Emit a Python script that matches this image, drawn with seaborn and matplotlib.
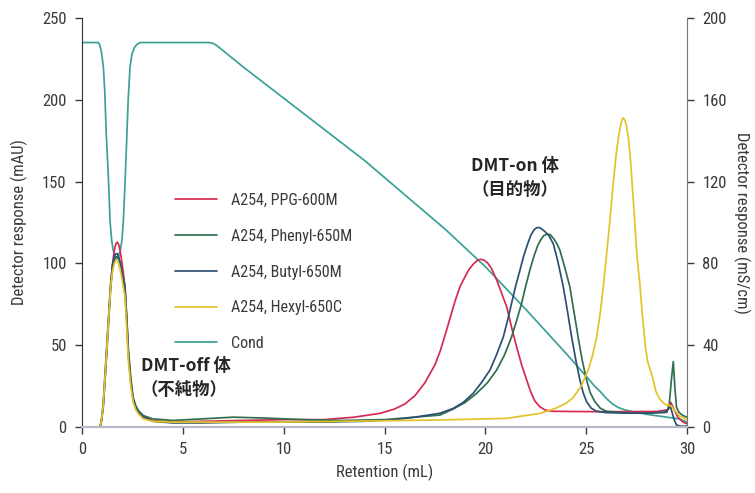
import pandas as pd
import matplotlib
matplotlib.use('Agg')
import matplotlib.pyplot as plt
import seaborn as sns

# retention (mL) and detector response (mAU)
early_x = [0, 0.9, 0.97, 1.05, 1.13, 1.22, 1.32, 1.42, 1.51, 1.6, 1.68, 1.75, 1.82, 1.9, 2.0,
           2.13, 2.22, 2.3, 2.42, 2.54, 2.67, 2.8, 3.04, 3.5]

ppg_x = early_x + [4.5, 6, 8, 10, 12, 13.5, 14.8, 15.5, 16, 16.5, 17, 17.5, 17.75, 18, 18.25,
                   18.5, 18.75, 19, 19.2, 19.4, 19.6, 19.75, 19.9, 20.1, 20.3, 20.56, 20.8, 21.06,
                   21.3, 21.55, 21.8, 22.05, 22.25, 22.45, 22.7, 22.95, 23.3, 25, 27, 28.5,
                   29.05, 29.2, 29.35, 29.55, 29.8, 30]
ppg_y = [0, 0, 4, 12, 26, 45, 66, 86, 99, 108, 112, 113, 111.5, 107, 99,
         86, 66, 45, 28, 16.5, 11.5, 9, 6.3, 4] + \
        [3, 3.5, 4, 4.5, 4.5, 6, 8.4, 11, 14, 19, 27, 38, 46, 56, 66.5,
         77, 86, 92, 96.5, 99.5, 101.8, 102.5, 102.2, 100.5, 97, 90, 82, 73.5,
         61, 49, 38, 28.7, 21.5, 16, 12.4, 10.5, 9.6, 9.4, 9.4, 9.5,
         10.5, 15, 11, 6, 3, 2]

phenyl_x = early_x + [4.5, 6, 7.5, 9, 11, 13, 15, 16.5, 17.75, 18.41, 19.0, 19.57, 20.1, 20.56,
                      20.95, 21.3, 21.55, 21.8, 22.0, 22.21, 22.4, 22.6, 22.75, 22.9, 23.07, 23.22,
                      23.4, 23.55, 23.7, 23.95, 24.19, 24.4, 24.6, 24.8, 25.02, 25.2, 25.43, 25.7,
                      26, 27, 28, 29.0, 29.12, 29.22, 29.32, 29.4, 29.48, 29.6, 29.8, 30]
phenyl_y = [0, 0, 4, 12, 27, 44, 64, 85, 96, 102, 103.8, 104, 103, 100, 94,
            86, 67, 47, 30, 18, 13, 10, 7, 5] + \
           [4, 5, 6, 5.5, 4.5, 4, 4.5, 6, 7.3, 11, 15, 20.6, 27, 34.8,
            44, 55, 65, 75.6, 86, 96, 104, 111, 114.5, 117, 118, 117.5,
            115, 112, 108, 97, 85.8, 70, 55, 41, 28.7, 21, 15.5, 11.5,
            9.6, 8.5, 8.5, 9, 14, 28, 40, 24, 12, 9, 7, 6]

butyl_x = early_x + [4.5, 6, 8, 10, 12, 14, 15.5, 16.5, 17.75, 18.41, 18.9, 19.4, 19.8, 20.23,
                     20.55, 20.89, 21.1, 21.3, 21.5, 21.72, 21.9, 22.1, 22.25, 22.4, 22.52, 22.62,
                     22.75, 22.95, 23.15, 23.37, 23.6, 23.86, 24.07, 24.28, 24.5, 24.69, 24.85,
                     25.02, 25.25, 25.52, 26, 27, 28, 28.9, 29.18, 29.35, 29.48, 29.7, 30]
butyl_y = [0, 0, 5, 14, 30, 48, 68, 88, 99, 104, 105.8, 106, 104, 100, 93,
           84, 64, 44, 27, 16, 11, 9, 6, 3.5] + \
          [2.5, 2.5, 3, 3, 3, 3.5, 4.5, 6, 8.4, 11.4, 15, 20.6, 27, 34.8,
           44, 55, 65, 75.6, 86, 96, 104.5, 112, 117, 120.3, 121.6, 122,
           121.5, 119.5, 117, 112, 101, 86, 71, 55, 40, 28.7, 21,
           15.5, 11.5, 9.6, 8.8, 8.5, 8.5, 9, 12.4, 5, 1.2, 0.5, 0.5]

hexyl_x = early_x + [4.5, 7, 10, 13, 16, 17.75, 19.5, 21.06, 22.7, 23.5, 24.0, 24.36, 24.75, 25.1,
                     25.3, 25.52, 25.7, 25.85, 26.0, 26.18, 26.35, 26.5, 26.6, 26.7, 26.78, 26.84,
                     26.92, 27.0, 27.1, 27.2, 27.3, 27.4, 27.5, 27.58, 27.66, 27.75, 27.85, 27.95,
                     28.05, 28.2, 28.3, 28.45, 28.65, 28.85, 29.0, 29.2, 29.35, 29.6, 30]
hexyl_y = [0, 0, 4.5, 13, 28, 46, 66, 86, 95, 100, 101.8, 102, 99.5, 96, 89,
           80, 60, 40, 25, 15, 10.5, 8, 5, 3.5] + \
          [3, 3, 3, 3.5, 4, 4.3, 4.8, 5.3, 8.3, 11.5, 14.5, 18, 25, 34.8,
           43, 55, 70, 85.8, 104, 126.5, 150, 168, 177, 184, 188, 189,
           187.5, 184, 176, 163, 145, 127, 108, 97, 88, 74, 60, 48,
           40, 34, 30, 22, 17, 14.5, 13.4, 13, 11, 7, 4.5]

# conductivity (mS/cm), right axis
cond_x = [0, 0.81, 0.88, 0.95, 1.0, 1.06, 1.13, 1.2, 1.3, 1.39, 1.47, 1.55, 1.63, 1.72, 1.81, 1.9,
          1.98, 2.05, 2.13, 2.2, 2.29, 2.38, 2.48, 2.6, 2.74, 2.88, 6.3, 6.5, 6.7, 7, 8, 10, 12,
          14, 16, 18, 20, 22, 24, 25, 25.4, 25.7, 26.0, 26.3, 26.6, 26.9, 27.3, 28, 29, 29.6, 30]
cond_y = [188, 188, 186.8, 184, 180.8, 176, 164, 144, 124, 100.8, 91.2, 86.4, 83.6, 82.4, 83.6,
          86.4, 91.2, 100.8, 118.4, 136, 160, 176, 182.4, 185.6, 187.2, 188, 188, 187.6, 186.4,
          184, 176, 160.8, 145.6, 130.4, 113.6, 96.8, 78.4, 57.6, 36, 24.8, 20.2, 17.3, 14,
          11.3, 9.5, 8.4, 7.5, 6.2, 4.8, 4, 2.4]

labels = ['A254, PPG-600M', 'A254, Phenyl-650M', 'A254, Butyl-650M', 'A254, Hexyl-650C']
colors = {'A254, PPG-600M': '#d62a52', 'A254, Phenyl-650M': '#2f6f4c',
          'A254, Butyl-650M': '#2c5073', 'A254, Hexyl-650C': '#e2c42a', 'Cond': '#3aa196'}

frames = []
for lab, xs, ys in zip(labels, [ppg_x, phenyl_x, butyl_x, hexyl_x], [ppg_y, phenyl_y, butyl_y, hexyl_y]):
    frames.append(pd.DataFrame({'Retention': xs, 'A254': ys, 'Series': lab}))
df = pd.concat(frames, ignore_index=True)
df_cond = pd.DataFrame({'Retention': cond_x, 'Cond': cond_y, 'Series': 'Cond'})

sns.set_style('white')
plt.rcParams['font.family'] = ['Liberation Sans Narrow', 'DejaVu Sans Condensed',
                               'Roboto Condensed', 'Open Sans Condensed', 'DejaVu Sans']

fig = plt.figure(figsize=(7.55, 4.93), dpi=100)
ax = fig.add_axes([82 / 755, 1 - 427 / 493, 605 / 755, 409 / 493])
ax2 = ax.twinx()

sns.lineplot(data=df_cond, x='Retention', y='Cond', hue='Series', palette=colors,
             estimator=None, sort=False, lw=1.25, ax=ax2, legend=False)
sns.lineplot(data=df, x='Retention', y='A254', hue='Series', palette=colors,
             estimator=None, sort=False, lw=1.25, ax=ax, legend=False)
ax.set_zorder(ax2.get_zorder() + 1)
ax.patch.set_visible(False)

ax.set_xlim(0, 30)
ax.set_ylim(0, 250)
ax2.set_ylim(0, 200)
ax.set_xticks(range(0, 31, 5))
ax.set_yticks(range(0, 251, 50))
ax2.set_yticks(range(0, 201, 40))

tick_col = '#3a3a3a'
for a in (ax, ax2):
    a.tick_params(labelsize=12, colors=tick_col, length=5, width=1, direction='out')
    a.spines['top'].set_visible(False)
ax.spines['right'].set_visible(False)
ax.spines['left'].set_color('#333333')
ax2.spines['left'].set_visible(False)
ax2.spines['right'].set_color('#777777')
ax.spines['bottom'].set_color('#b8b8c8')
ax.spines['bottom'].set_linewidth(1.6)
ax2.spines['bottom'].set_visible(False)
ax.tick_params(axis='both', left=True, bottom=True, pad=6)
ax2.tick_params(axis='y', right=True, pad=6)

ax.set_xlabel('Retention (mL)', fontsize=12, color=tick_col, labelpad=5)
ax.set_ylabel('Detector response (mAU)', fontsize=12, color=tick_col, labelpad=10)
ax2.set_ylabel('Detector response (mS/cm)', fontsize=12, color=tick_col, rotation=-90, labelpad=17)

handles = [plt.Line2D([], [], color=colors[k], lw=1.25) for k in labels + ['Cond']]
ax2.legend(handles, labels + ['Cond'], loc='upper left', frameon=False, fontsize=11.5,
           bbox_to_anchor=(175 / 755, 1 - 193 / 493), bbox_transform=fig.transFigure,
           borderaxespad=0, borderpad=0, handlelength=2.6, handletextpad=0.9,
           labelspacing=1.3, labelcolor=tick_col)

jp = ['Noto Sans CJK JP', 'DejaVu Sans']
fig.text(515 / 755, 1 - 166 / 493, 'DMT-on 体', family=jp, weight='bold', fontsize=12.5,
         ha='center', va='center')
fig.text(515 / 755, 1 - 190 / 493, '（目的物）', family=jp, weight='bold', fontsize=12.5,
         ha='center', va='center')
fig.text(186 / 755, 1 - 366 / 493, 'DMT-off 体', family=jp, weight='bold', fontsize=12.5,
         ha='center', va='center')
fig.text(184 / 755, 1 - 390 / 493, '（不純物）', family=jp, weight='bold', fontsize=12.5,
         ha='center', va='center')

fig.savefig('out.png', dpi=100)
